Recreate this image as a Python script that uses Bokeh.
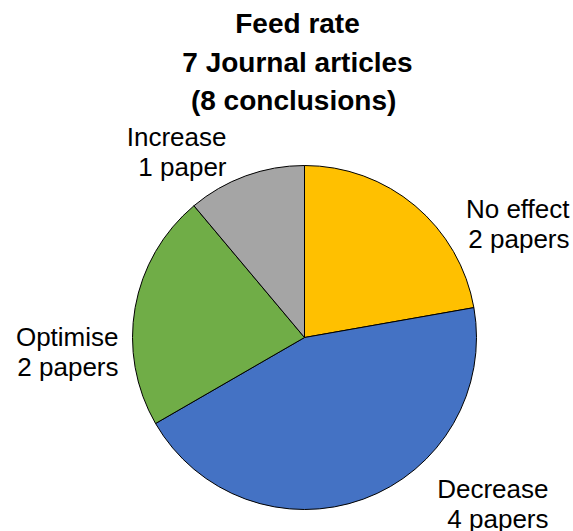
import numpy as np
from bokeh.plotting import figure
from bokeh.models import Range1d
from bokeh.core.properties import value
from bokeh.embed import file_html
from bokeh.resources import INLINE

# Feed rate conclusions, clockwise from 12 o'clock
categories = ["No effect", "Decrease", "Optimise", "Increase"]
papers = [2, 4, 2, 1]
count_labels = ["2 papers", "4 papers", "2 papers", "1 paper"]
colors = ["#FFC000", "#4472C4", "#70AD47", "#A5A5A5"]
title_lines = ["Feed rate", "7 Journal articles", " (8 conclusions)"]

W, H = 573, 531
CX, CY = 304, 337  # pie centre measured from top-left
R = 172

p = figure(width=W, height=H, output_backend="svg", toolbar_location=None,
           x_range=Range1d(-CX, W - CX), y_range=Range1d(-(H - CY), CY),
           min_border=0)
p.axis.visible = False
p.grid.visible = False
p.outline_line_color = None
p.background_fill_color = "white"
p.border_fill_color = "white"

# wedge angles from the counts, going clockwise from the top
total = sum(papers)
fracs = np.array(papers) / total
ends = np.pi / 2 - 2 * np.pi * np.cumsum(fracs)
starts = np.concatenate([[np.pi / 2], ends[:-1]])
p.wedge(x=0, y=0, radius=R, start_angle=starts, end_angle=ends,
        direction="clock", fill_color=colors, line_color="black", line_width=1)

FONT = value("Liberation Sans")

# data labels (name + count), right-aligned blocks
label_pos = {  # right edge x, first line centre y (from top)
    "No effect": (569, 208),
    "Decrease": (548, 488),
    "Optimise": (118, 336),
    "Increase": (226, 136),
}
LINE = 30
for cat, cnt in zip(categories, count_labels):
    rx, cy = label_pos[cat]
    p.text(x=[rx - CX, rx - CX], y=[CY - cy, CY - cy - LINE], text=[cat, cnt],
           text_font=FONT, text_font_size="26px", text_color="black",
           text_align="right", text_baseline="middle")

# centred three-line title
title_centres = [23, 62, 100]
p.text(x=[297 - CX] * 3, y=[CY - c for c in title_centres], text=title_lines,
       text_font=FONT, text_font_size="28px", text_font_style="bold",
       text_color="black", text_align="center", text_baseline="middle")

open("out.html", "w").write(file_html(p, INLINE))
